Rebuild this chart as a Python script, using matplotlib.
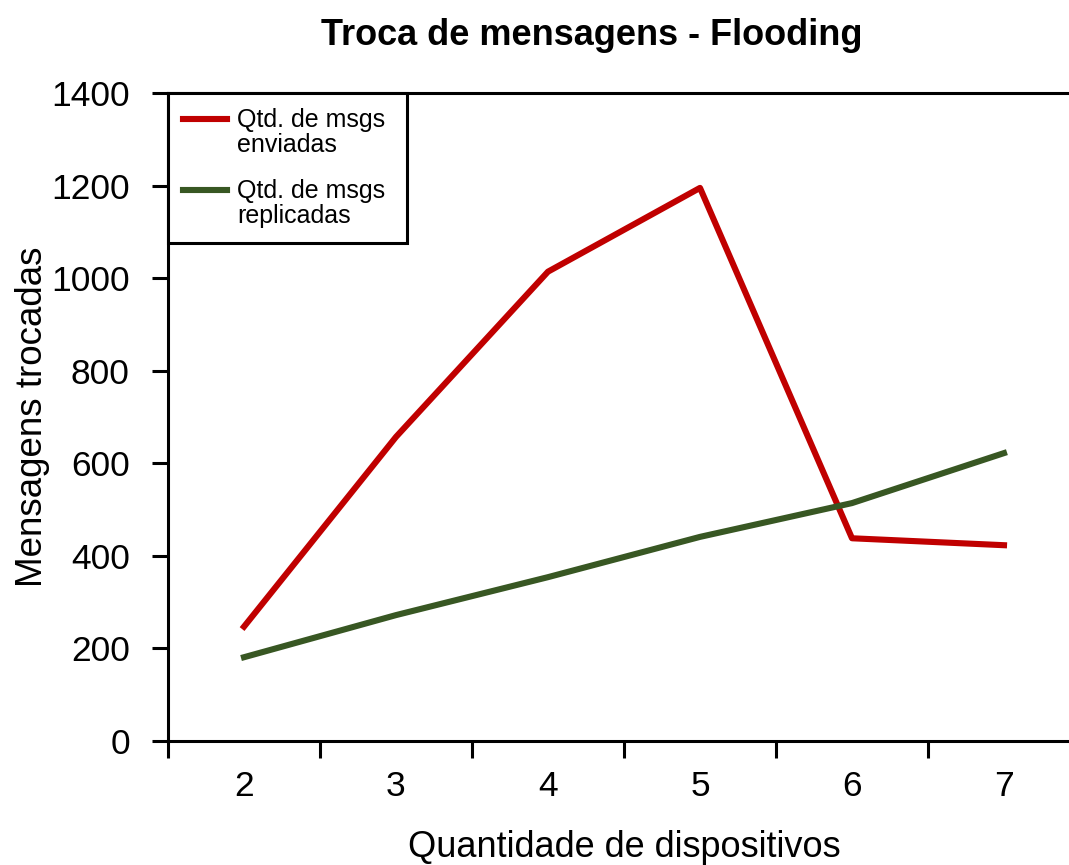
import numpy as np
import matplotlib
matplotlib.use("Agg")
import matplotlib.pyplot as plt
from matplotlib.legend_handler import HandlerLine2D

plt.rcParams['font.family'] = ['Liberation Sans', 'DejaVu Sans']

# data
dispositivos = ['2', '3', '4', '5', '6', '7']
enviadas = [247, 657, 1014, 1195, 438, 423]
replicadas = [181, 272, 354, 441, 514, 622]

x = np.arange(len(dispositivos))


# legend line sits on the first text line, not in the middle of the two
class TopLine(HandlerLine2D):
    def create_artists(self, legend, orig_handle, xdescent, ydescent,
                       width, height, fontsize, trans):
        arts = super().create_artists(legend, orig_handle, xdescent, ydescent,
                                      width, height, fontsize, trans)
        for a in arts:
            a.set_ydata(np.asarray(a.get_ydata()) + 0.58 * fontsize)
        return arts


fig = plt.figure(figsize=(10.69, 8.65), dpi=100)
ax = fig.add_axes([168 / 1069, 1 - 741 / 865, 912 / 1069, (741 - 93) / 865])

l1, = ax.plot(x, enviadas, color='#C00000', lw=4.4, label='Qtd. de msgs \nenviadas')
l2, = ax.plot(x, replicadas, color='#385723', lw=4.4, label='Qtd. de msgs \nreplicadas')

ax.set_xlim(-0.5, len(x) - 0.5)
ax.set_ylim(0, 1400)
ax.set_yticks(range(0, 1401, 200))

# ticks between categories, labels centred on categories
ax.set_xticks(np.arange(-0.5, len(x), 1.0))
ax.set_xticklabels([])
ax.set_xticks(x, minor=True)
ax.set_xticklabels(dispositivos, minor=True)
ax.tick_params(axis='x', which='minor', length=0, pad=21, labelsize=25.5)
ax.tick_params(axis='x', which='major', length=12, width=2.2, direction='out')
ax.tick_params(axis='y', length=11.5, width=2.2, pad=16, labelsize=25.5)

for s in ['left', 'top', 'bottom']:
    ax.spines[s].set_linewidth(2.2)
ax.spines['right'].set_visible(False)

ax.set_xlabel('Quantidade de dispositivos', fontsize=26, labelpad=19)
ax.set_ylabel('Mensagens trocadas', fontsize=26.5, labelpad=1)
fig.text((318 + 865) / 2 / 1069, 1 - 45 / 865, 'Troca de mensagens - Flooding',
         fontsize=26, fontweight='bold', ha='center', va='baseline')

leg = ax.legend(handles=[l1, l2], loc='upper left', fontsize=18, frameon=True,
                fancybox=False, framealpha=1, borderaxespad=0,
                handlelength=1.75, handletextpad=0.42, borderpad=0.6,
                labelspacing=0.9, handler_map={l1: TopLine(), l2: TopLine()})
leg.get_frame().set_edgecolor('black')
leg.get_frame().set_linewidth(2.2)
for t in leg.get_texts():
    t.set_linespacing(1.05)

fig.savefig('out.png', dpi=100)
